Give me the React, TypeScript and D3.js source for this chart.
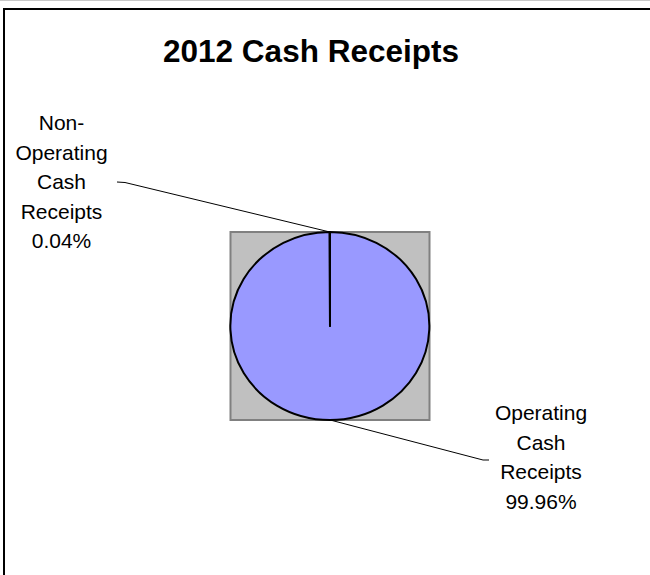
import * as d3 from "d3";

const categories = ["Operating Cash Receipts", "Non-Operating Cash Receipts"];
const shares = [99.96, 0.04];
const labelLines = [
  ["Operating", "Cash", "Receipts", "99.96%"],
  ["Non-", "Operating", "Cash", "Receipts", "0.04%"],
];

export default function App() {
  const W = 650,
    H = 575;
  const cx = 330,
    cy = 326,
    rx = 99.5,
    ry = 94;

  const pie = d3
    .pie<number>()
    .sort(null)
    .value((d) => d);
  const arcs = pie(shares);
  const arc = d3.arc<d3.PieArcDatum<number>>().innerRadius(0).outerRadius(1);

  // point on the ellipse edge at a given pie angle
  const edge = (a: number) => [cx + rx * Math.sin(a), cy - ry * Math.cos(a)];

  // label anchors (centre x, first baseline) and leader elbows
  const labels = [
    { x: 541, y: 420, elbow: [483, 460], end: [489, 460] },
    { x: 61.5, y: 130, elbow: [125, 182.5], end: [117, 182] },
  ];
  const lh = 29.5;

  return (
    <svg
      width={W}
      height={H}
      style={{ position: "fixed", left: 0, top: 0, overflow: "hidden", display: "block" }}
      fontFamily="'Liberation Sans', Arial, sans-serif"
    >
      <rect x={0} y={0} width={W} height={H} fill="#fff" />
      <line x1={0} x2={W} y1={0.5} y2={0.5} stroke="#c8c8c8" strokeWidth={1} />
      {/* chart frame: only left and top edges fall inside the picture */}
      <path d={`M4,${H + 10} V9 H${W + 10}`} fill="none" stroke="#000" strokeWidth={2} />
      <text x={311} y={62} textAnchor="middle" fontSize={31.5} fontWeight="bold" fill="#000">
        2012 Cash Receipts
      </text>

      {/* plot area */}
      <rect x={cx - rx} y={cy - ry} width={rx * 2} height={ry * 2} fill="#C0C0C0" stroke="#808080" strokeWidth={2} />

      <g transform={`translate(${cx},${cy}) scale(${rx},${ry})`}>
        {arcs.map((a, i) => (
          <path
            key={categories[i]}
            d={arc(a) || ""}
            fill="#9999FF"
            stroke="#000"
            strokeWidth={2}
            vectorEffect="non-scaling-stroke"
            strokeLinejoin="round"
          />
        ))}
      </g>

      {arcs.map((a, i) => {
        const mid = (a.startAngle + a.endAngle) / 2;
        const [px, py] = edge(mid);
        const l = labels[i];
        return (
          <g key={categories[i]}>
            <polyline
              points={`${px},${py} ${l.elbow[0]},${l.elbow[1]} ${l.end[0]},${l.end[1]}`}
              fill="none"
              stroke="#000"
              strokeWidth={1}
            />
            <text textAnchor="middle" fontSize={21} fill="#000">
              {labelLines[i].map((t, j) => (
                <tspan key={j} x={l.x} y={l.y + j * lh}>
                  {t}
                </tspan>
              ))}
            </text>
          </g>
        );
      })}
    </svg>
  );
}
